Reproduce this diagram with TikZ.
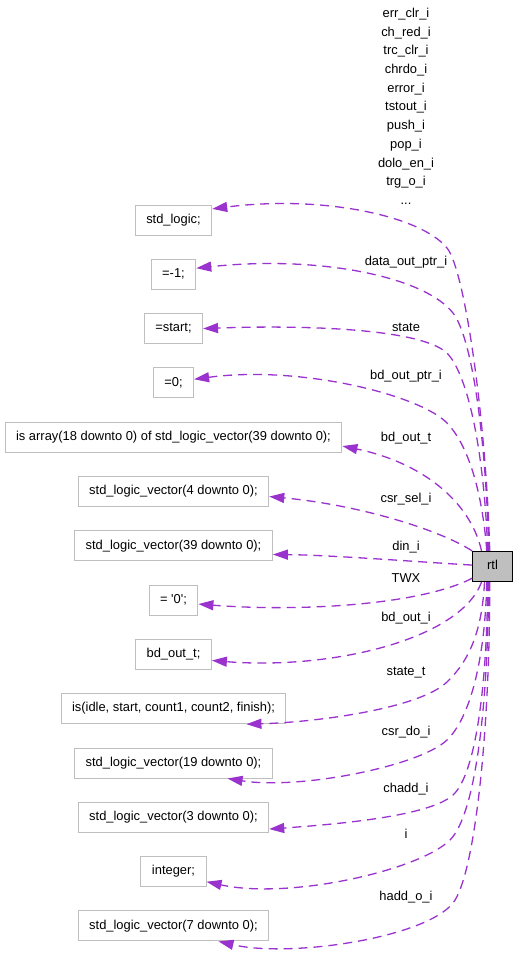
\documentclass[tikz,border=0pt]{standalone}
\usepackage{fontspec}
\setmainfont{Liberation Sans}
\usepackage{xcolor}
\definecolor{linkpurple}{HTML}{9A32CD}
\definecolor{boxgray}{HTML}{BFBFBF}
\usetikzlibrary{arrows.meta, positioning}

\begin{document}
\begin{tikzpicture}[x=1pt, y=-1pt,
    typebox/.style={rectangle, draw=boxgray, line width=1pt, fill=white,
      minimum height=30pt, inner xsep=11pt, text height=9.5pt, text depth=3pt,
      font=\fontsize{12.9}{15}\selectfont},
    entity/.style={typebox, draw=black, fill=boxgray, line width=1.3pt,
      minimum width=39.6pt},
    link/.style={linkpurple, line width=1.3pt, dash pattern=on 9pt off 6pt,
      -{Triangle[length=15pt, width=10pt]}},
    lbl/.style={anchor=base, inner sep=0pt, font=\fontsize{12.9}{15}\selectfont}
]
\useasboundingbox (0,0) rectangle (517,959);

% type boxes
\node[typebox] (b1) at (173.5,220) {std\_logic;};
\node[typebox, below=23.3pt of b1] (b2) {=-1;};
\node[typebox, below=23.3pt of b2] (b3) {=start;};
\node[typebox, below=23.3pt of b3] (b4) {=0;};
\node[typebox, below=23.3pt of b4] (b5) {is array(18 downto 0) of std\_logic\_vector(39 downto 0);};
\node[typebox, below=23.3pt of b5] (b6) {std\_logic\_vector(4 downto 0);};
\node[typebox, below=23.3pt of b6] (b7) {std\_logic\_vector(39 downto 0);};
\node[typebox, below=23.3pt of b7] (b8) {= \textquotesingle0\textquotesingle;};
\node[typebox, below=23.3pt of b8] (b9) {bd\_out\_t;};
\node[typebox, below=23.3pt of b9] (b10) {is(idle, start, count1, count2, finish);};
\node[typebox, below=23.3pt of b10] (b11) {std\_logic\_vector(19 downto 0);};
\node[typebox, below=23.3pt of b11] (b12) {std\_logic\_vector(3 downto 0);};
\node[typebox, below=23.3pt of b12] (b13) {integer;};
\node[typebox, below=23.3pt of b13] (b14) {std\_logic\_vector(7 downto 0);};

\node[entity] (rtl) at (492.5,566.5) {rtl};

% edge labels
\foreach \name [count=\k from 0] in {err\_clr\_i, ch\_red\_i, trc\_clr\_i, chrdo\_i,
    error\_i, tstout\_i, push\_i, pop\_i, dolo\_en\_i, trg\_o\_i}
  \node[lbl] (top\k) at (406,17.4+18.7*\k) {\name};
\node[lbl] (topmore) at (406,204) {...};
\node[lbl] (lptr) at (406,265) {data\_out\_ptr\_i};
\node[lbl] (lstate) at (406,331) {state};
\node[lbl] (lbdptr) at (406,379.3) {bd\_out\_ptr\_i};
\node[lbl] (lbdt) at (406,441) {bd\_out\_t};
\node[lbl] (lsel) at (406,502.7) {csr\_sel\_i};
\node[lbl] (ldin) at (406,550.7) {din\_i};
\node[lbl] (ltwx) at (406,582.7) {TWX};
\node[lbl] (lbdi) at (406,621) {bd\_out\_i};
\node[lbl] (lstt) at (406,675) {state\_t};
\node[lbl] (ldo) at (406,735) {csr\_do\_i};
\node[lbl] (lchadd) at (406,792.7) {chadd\_i};
\node[lbl] (li) at (406,838.3) {i};
\node[lbl] (lhadd) at (406,900.7) {hadd\_o\_i};

% usage edges
\draw[link] (rtl.100) .. controls (486,420) and (465,270) .. (447,248)
  .. controls (420,215) and (320,195) .. (b1.16);
\draw[link] (rtl.103) .. controls (485,420) and (470,335) .. (453,313)
  .. controls (425,277) and (320,255) .. (b2.15);
\draw[link] (rtl.107) .. controls (484,450) and (468,375) .. (447,353)
  .. controls (420,328) and (300,325) .. (b3.east);
\draw[link] (rtl.110) .. controls (482,490) and (468,445) .. (447,423)
  .. controls (420,395) and (300,365) .. (b4.10);
\draw[link] (rtl.125) .. controls (470,500) and (420,462) .. (b5.-3);
\draw[link] (rtl.north west) .. controls (440,530) and (360,505) .. (b6.-3);
\draw[link] (rtl.176) .. controls (420,562) and (330,555) .. (b7.-5);
\draw[link] (rtl.210) .. controls (420,605) and (300,612) .. (b8.-9);
\draw[link] (rtl.235) .. controls (460,640) and (330,670) .. (b9.-9);
\draw[link] (rtl.243) .. controls (482,630) and (470,660) .. (447,682)
  .. controls (420,708) and (320,722) .. (b10.-12);
\draw[link] (rtl.250) .. controls (485,660) and (470,718) .. (447,740)
  .. controls (420,766) and (300,790) .. (b11.-16);
\draw[link] (rtl.253) .. controls (487,690) and (475,775) .. (453,795)
  .. controls (430,816) and (340,824) .. (b12.-7);
\draw[link] (rtl.256) .. controls (488,710) and (475,815) .. (450,840)
  .. controls (420,870) and (290,900) .. (b13.-17);
\draw[link] (rtl.260) .. controls (490,730) and (475,875) .. (453,903)
  .. controls (425,938) and (290,958) .. (b14.-19);
\end{tikzpicture}
\end{document}
